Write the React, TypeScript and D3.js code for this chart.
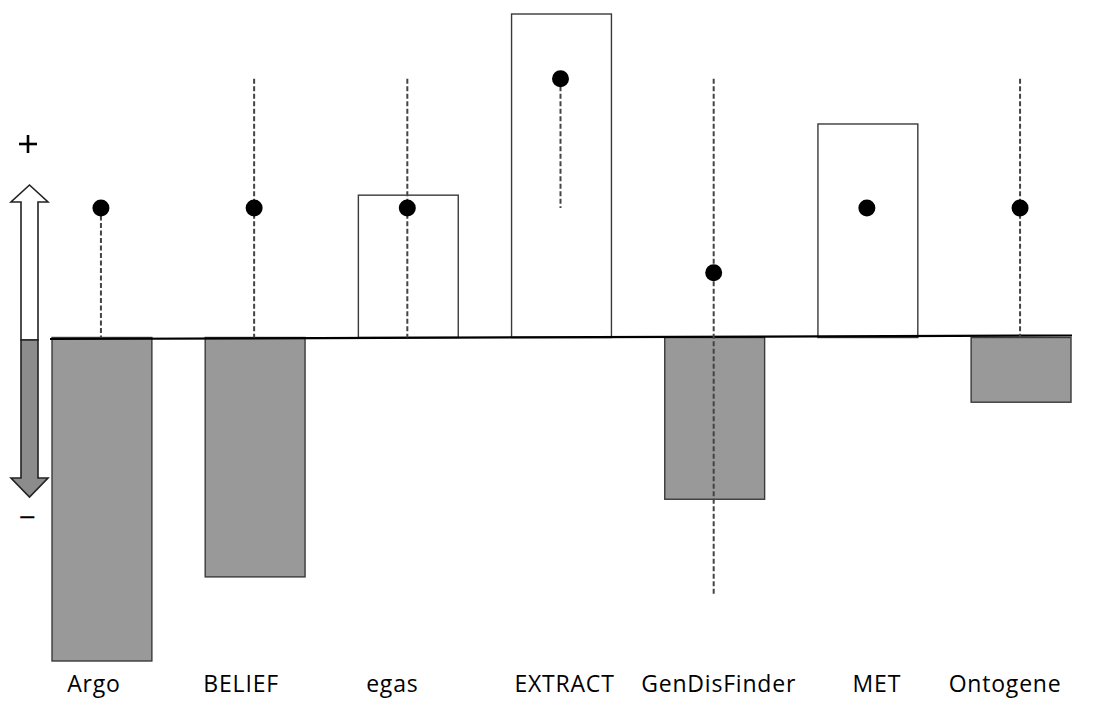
import React from "react";
import * as d3 from "d3";

const categories = ["Argo", "BELIEF", "egas", "EXTRACT", "GenDisFinder", "MET", "Ontogene"];
const barValues = [-2.5, -1.85, 1.1, 2.5, -1.25, 1.65, -0.5];
const dotValues = [1, 1, 1, 2, 0.5, 1, 1];
const rangeLow: (number | null)[] = [0, 0, 0, 1, -2, null, 0];
const rangeHigh: (number | null)[] = [1, 2, 2, 2, 2, null, 2];

// layout: small horizontal offsets of the hand-placed labels
const labelShift = [-8, -14, -16, 3, 4, 9, -16];

const W = 1098;
const H = 701;

export default function App() {
  const x = d3.scaleBand<string>().domain(categories).range([52, 1071]).paddingInner(0.348).paddingOuter(0);
  const y = d3.scaleLinear().domain([-2.5, 2.5]).range([661, 14]);
  const y0 = y(0);
  const bw = x.bandwidth();

  const ax = 29.5;
  const tipTop = 185, headTop = 202, split = 340, headBot = 478, tipBot = 497;
  const sL = 21, sR = 38, hL = 11, hR = 48;
  const upper = [[ax, tipTop], [hR, headTop], [sR, headTop], [sR, split], [sL, split], [sL, headTop], [hL, headTop]];
  const lower = [[sL, split], [sR, split], [sR, headBot], [hR, headBot], [ax, tipBot], [hL, headBot], [sL, headBot]];
  const pts = (p: number[][]) => p.map((q) => q.join(",")).join(" ");

  return (
    <svg width={W} height={H} style={{ position: "absolute", left: 0, top: 0, background: "#fff" }}>
      {categories.map((c, i) => {
        const v = barValues[i];
        const top = Math.min(y(v), y0);
        const h = Math.abs(y(v) - y0);
        return (
          <rect key={"b" + c} x={x(c)} y={top} width={bw} height={h}
            fill={v < 0 ? "#999999" : "#ffffff"} stroke="#3a3a3a" strokeWidth={1.4} />
        );
      })}
      <line x1={50} y1={339} x2={1072} y2={335.5} stroke="#000" strokeWidth={2.2} />
      {categories.map((c, i) => {
        const cx = (x(c) as number) + bw / 2 - 1;
        const lo = rangeLow[i], hi = rangeHigh[i];
        return (
          <g key={"d" + c}>
            {lo !== null && hi !== null && (
              <line x1={cx} x2={cx} y1={y(hi)} y2={y(lo)} stroke="#444" strokeWidth={2} strokeDasharray="5,2.5" />
            )}
            <circle cx={cx} cy={y(dotValues[i])} r={8.5} fill="#000" />
          </g>
        );
      })}
      <polygon points={pts(upper)} fill="#fff" stroke="#222" strokeWidth={1.6} strokeLinejoin="miter" />
      <polygon points={pts(lower)} fill="#8c8c8c" stroke="#222" strokeWidth={1.6} strokeLinejoin="miter" />
      <line x1={19} x2={37} y1={144} y2={144} stroke="#000" strokeWidth={2.6} />
      <line x1={28} x2={28} y1={135} y2={153} stroke="#000" strokeWidth={2.6} />
      <text x={27} y={528} textAnchor="middle" fontFamily="Open Sans, sans-serif" fontSize={30} fill="#000">−</text>
      {categories.map((c, i) => (
        <text key={"l" + c} x={(x(c) as number) + bw / 2 + labelShift[i]} y={692} textAnchor="middle"
          fontFamily="Open Sans, sans-serif" fontSize={23} letterSpacing={0.8} fill="#000">{c}</text>
      ))}
    </svg>
  );
}
